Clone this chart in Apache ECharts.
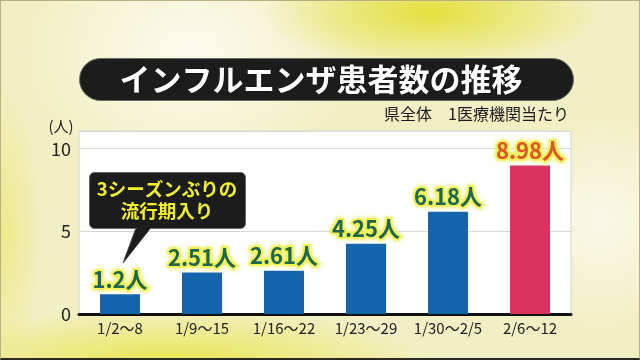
<!DOCTYPE html>
<html>
<head>
<meta charset="utf-8">
<script src="https://cdn.jsdelivr.net/npm/echarts@6/dist/echarts.min.js"></script>
<style>
html,body{margin:0;padding:0;}
#c{width:640px;height:360px;box-sizing:border-box;border:1px solid #b8b080;border-bottom:2px solid #2a2a20;
background:
radial-gradient(ellipse 170px 55px at 430px 12px, rgba(228,224,60,1), rgba(228,224,60,0)),
radial-gradient(ellipse 260px 55px at 170px 362px, rgba(232,230,80,1), rgba(232,230,80,0)),
radial-gradient(ellipse 40px 150px at 0px 230px, rgba(236,232,120,0.8), rgba(236,232,120,0)),
radial-gradient(ellipse 170px 130px at 190px 50px, rgba(252,252,238,1), rgba(252,252,238,0)),
radial-gradient(ellipse 120px 110px at 600px 220px, rgba(250,250,235,0.9), rgba(250,250,235,0)),
#f2efc4;}
</style>
</head>
<body>
<div id="c"></div>
<script>
var categories = ['1/2～8','1/9～15','1/16～22','1/23～29','1/30～2/5','2/6～12'];
var values = [1.2, 2.51, 2.61, 4.25, 6.18, 8.98];
var valueLabels = ['1.2人','2.51人','2.61人','4.25人','6.18人','8.98人'];
var yTicks = [0, 5, 10];
var titleText = 'インフルエンザ患者数の推移';
var subtitleText = '県全体　1医療機関当たり';
var unitText = '(人)';
var calloutLines = ['3シーズンぶりの', '流行期入り'];

var FONT = '"Noto Sans CJK JP", "Noto Sans", sans-serif';
var chart = echarts.init(document.getElementById('c'), null, {renderer:'canvas'});

var barData = values.map(function(v, i){
  var last = i === values.length - 1;
  return {
    value: v,
    itemStyle: {color: last ? '#d8325f' : '#1565ae'},
    label: {
      show: true,
      position: 'top',
      distance: 4,
      formatter: valueLabels[i],
      fontFamily: FONT,
      fontWeight: 'bold',
      fontSize: 22,
      color: last ? '#df5426' : '#1e6650',
      textBorderColor: '#f2f25a',
      textBorderWidth: 4,
      textShadowColor: 'rgba(240,240,90,0.9)',
      textShadowBlur: 5
    }
  };
});

chart.setOption({
  animation: false,
  grid: {left: 78, right: 68, top: 130, bottom: 44, show: true, backgroundColor: '#ffffff', borderColor: '#d4d4cc', borderWidth: 1},
  xAxis: {
    type: 'category',
    data: categories,
    axisLine: {lineStyle: {color: '#111', width: 3}},
    axisTick: {show: false},
    axisLabel: {interval: 0, fontFamily: FONT, fontSize: 15, color: '#222', margin: 7}
  },
  yAxis: {
    type: 'value',
    min: 0,
    max: 11.07,
    interval: 5,
    axisLine: {show: false},
    axisTick: {show: false},
    splitLine: {lineStyle: {color: '#d8d8d8', width: 1}},
    axisLabel: {
      fontFamily: FONT, fontSize: 18, color: '#222', margin: 8,
      formatter: function(v){ return yTicks.indexOf(v) >= 0 ? String(v) : ''; }
    }
  },
  series: [{
    type: 'bar',
    data: barData,
    barWidth: 40
  }],
  graphic: [
    {type:'rect', left: 78, top: 57, shape:{width: 494, height: 42, r: 21}, style:{fill:'#1c1c1c', stroke:'#6a6a60', lineWidth:1}, z: 10},
    {type:'text', x: 320, y: 78, z: 11, style:{text: titleText, fill:'#ffffff', fontFamily: FONT, fontWeight:'bold', fontSize: 31, textAlign:'center', textVerticalAlign:'middle', stroke:'#111', lineWidth:1}},
    {type:'text', x: 568, y: 113, z: 11, style:{text: subtitleText, fill:'#1a1a1a', fontFamily: FONT, fontSize: 16, textAlign:'right', textVerticalAlign:'middle'}},
    {type:'text', x: 60, y: 125, z: 11, style:{text: unitText, fill:'#222', fontFamily: FONT, fontSize: 15, textAlign:'center', textVerticalAlign:'middle'}},
    {type:'polygon', z: 20, shape:{points:[[136,224],[152,224],[122,262]]}, style:{fill:'#1c1c1c', stroke:'#555', lineWidth:1}},
    {type:'rect', left: 88, top: 171, z: 20, shape:{width:156, height:56, r:5}, style:{fill:'#1c1c1c', stroke:'#666', lineWidth:1}},
    {type:'polygon', z: 21, shape:{points:[[137,225],[151,225],[123,260]]}, style:{fill:'#1c1c1c'}},
    {type:'text', x: 166, y: 188, z: 22, style:{text: calloutLines[0], fill:'#f2f02a', fontFamily: FONT, fontWeight:'bold', fontSize: 18.5, textAlign:'center', textVerticalAlign:'middle'}},
    {type:'text', x: 166, y: 210, z: 22, style:{text: calloutLines[1], fill:'#f2f02a', fontFamily: FONT, fontWeight:'bold', fontSize: 18.5, textAlign:'center', textVerticalAlign:'middle'}}
  ]
});
</script>
</body>
</html>
